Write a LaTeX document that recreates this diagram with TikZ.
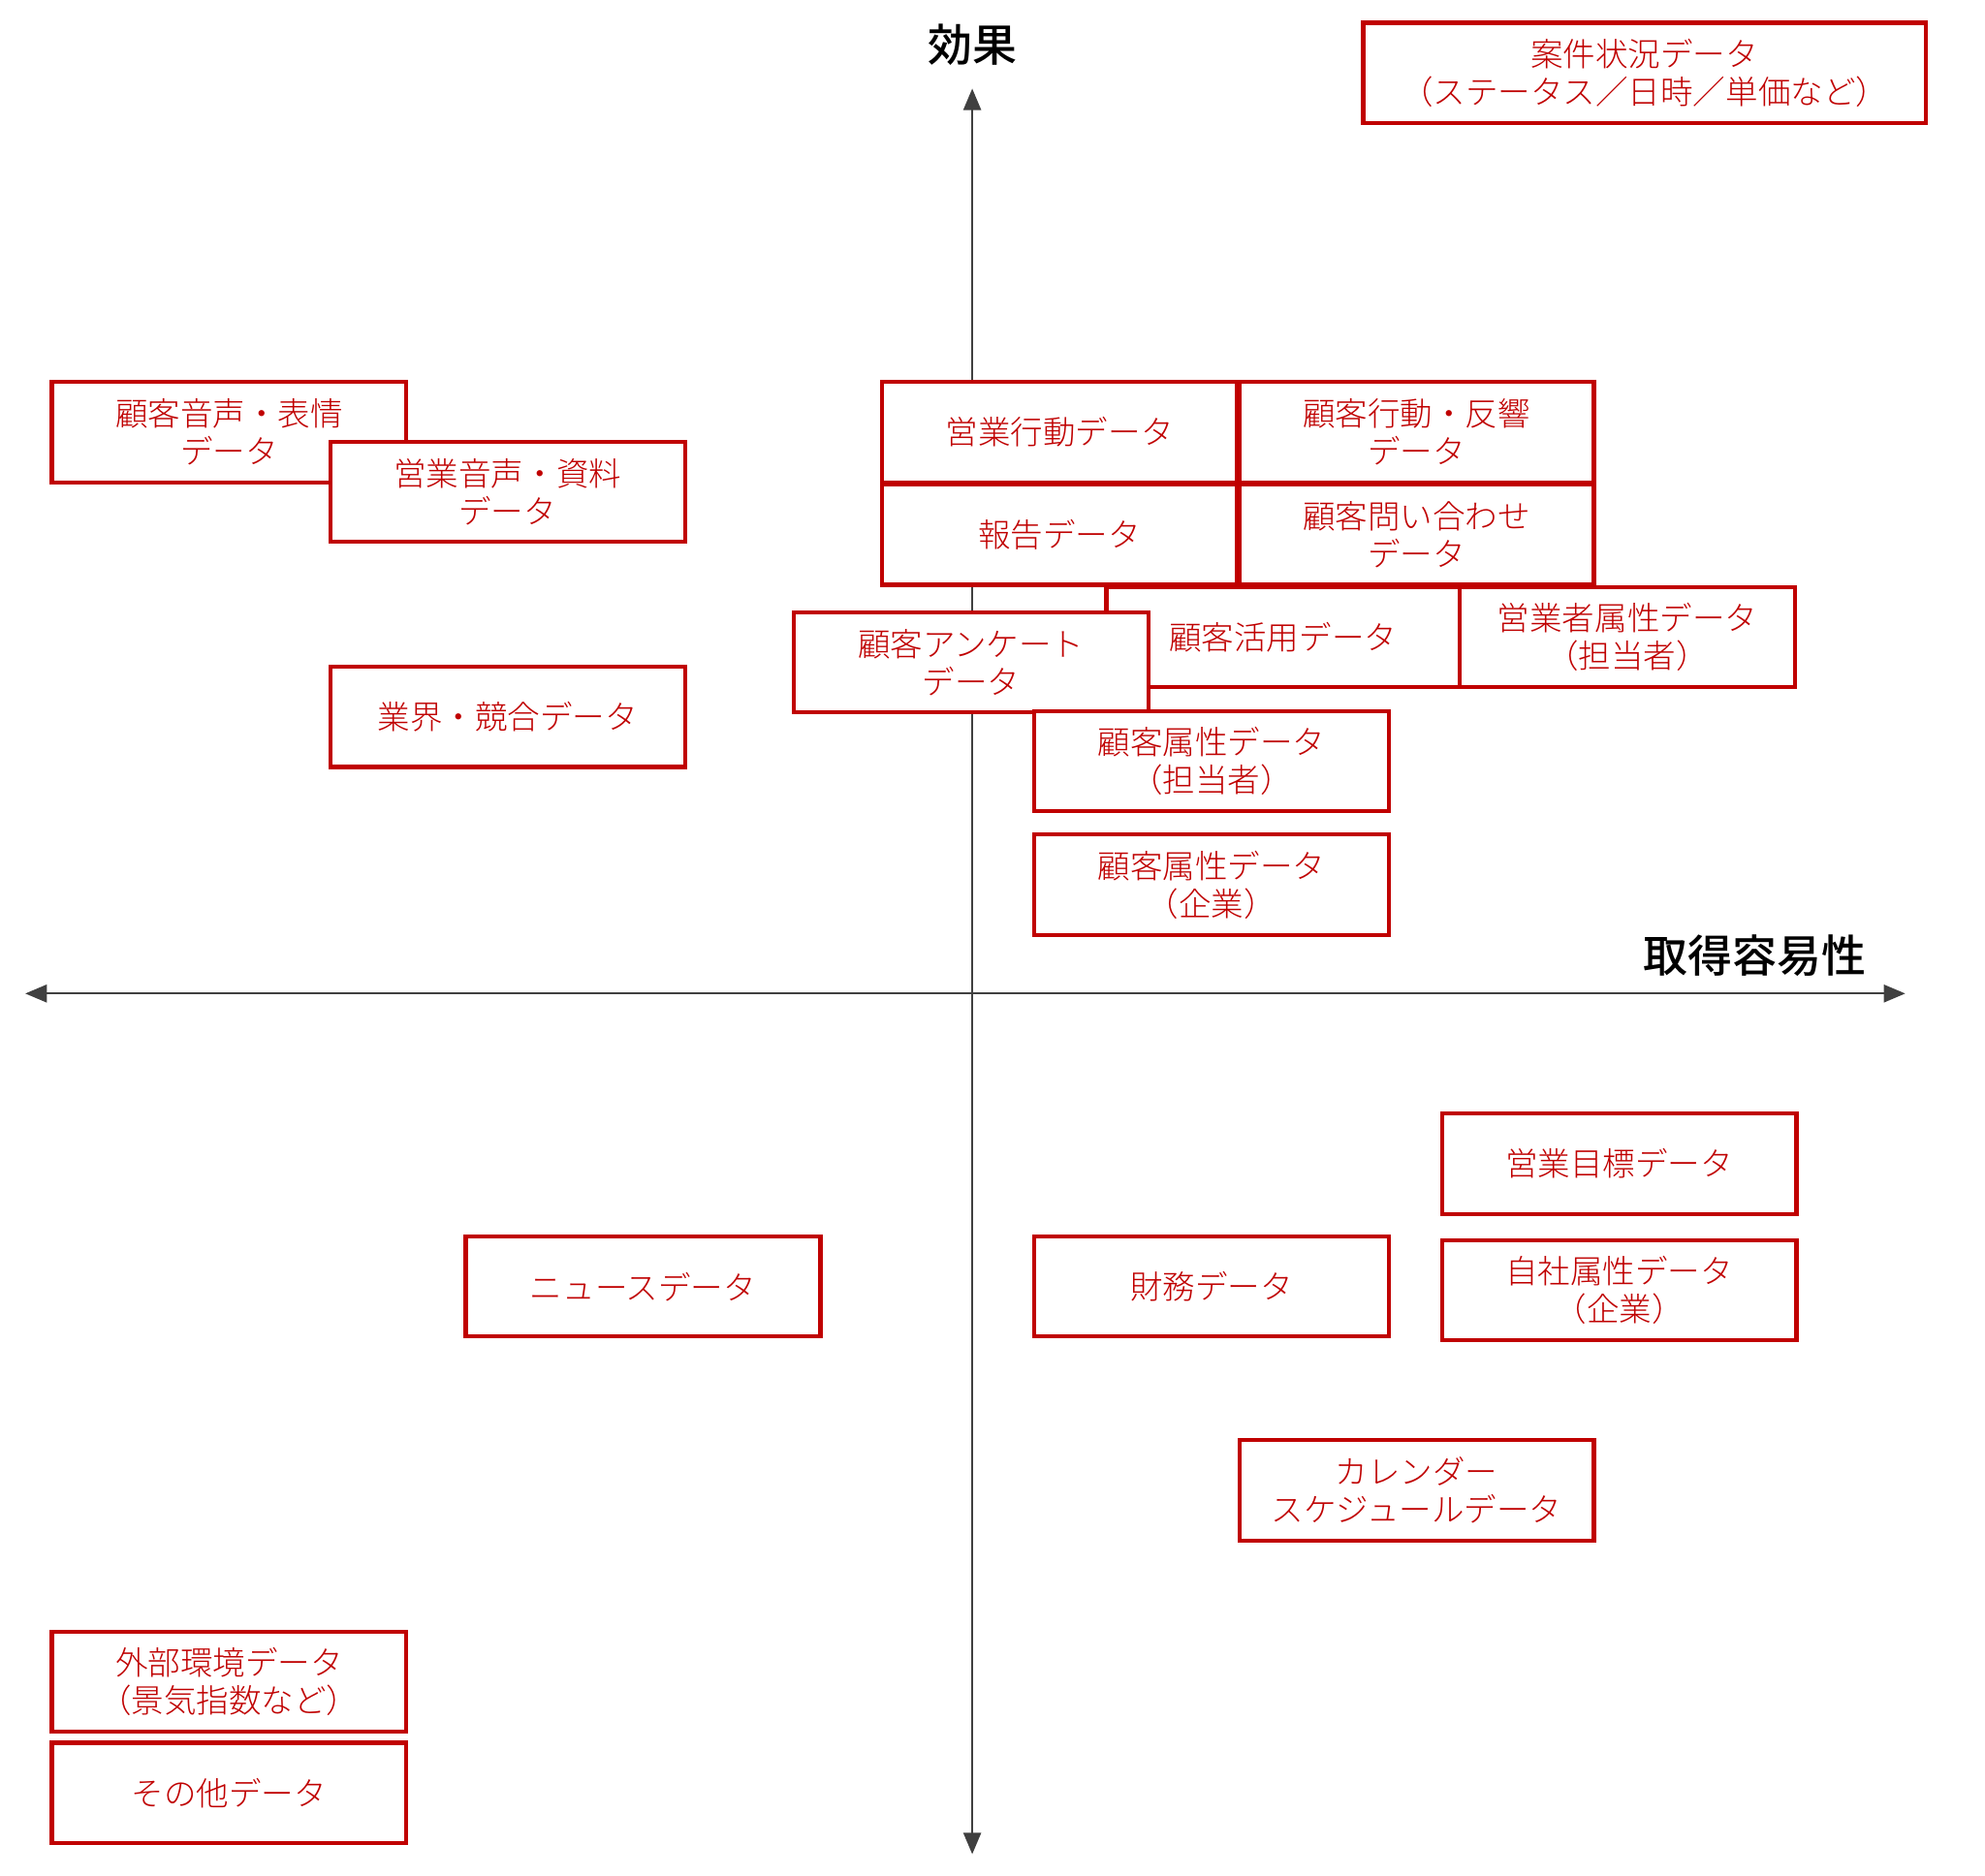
\documentclass[tikz,border=0pt]{standalone}
\usepackage{fontspec}
\setmainfont{Noto Sans CJK JP}[UprightFont=* Light,BoldFont=* Medium]
\usepackage{tikz}
\usetikzlibrary{arrows.meta,positioning}
\usepackage{xcolor}
\definecolor{boxred}{HTML}{C00000}
\definecolor{axisgray}{HTML}{404040}

\begin{document}
\begin{tikzpicture}[x=0.01cm,y=-0.01cm,
    databox/.style={draw=boxred,line width=0.9pt,fill=white,text=boxred,
        minimum width=2.8cm,minimum height=0.79cm,inner sep=0pt,align=center,
        font=\fontsize{7.3}{8.5}\selectfont},
    axislabel/.style={font=\fontsize{10}{12}\selectfont\bfseries,text=black}]
    \useasboundingbox (0,0) rectangle (1568,1482.2);
    % axes
    \coordinate (L) at (20,785);
    \coordinate (R) at (1505,785);
    \coordinate (T) at (768,70);
    \coordinate (B) at (768,1465);
    \draw[axisgray,line width=0.4pt,{Triangle[length=0.17cm,width=0.14cm]}-{Triangle[length=0.17cm,width=0.14cm]}] (L)--(R);
    \draw[axisgray,line width=0.4pt,{Triangle[length=0.17cm,width=0.14cm]}-{Triangle[length=0.17cm,width=0.14cm]}] (T)--(B);
    \node[axislabel] (effect) at (768,35) {効果};
    \node[axislabel] (ease) at (1386,755) {取得容易性};
    % upper left
    \node[databox] (kvoice) at (181,341.5) {顧客音声・表情\\データ};
    \node[databox] (svoice) at (401,388.5) {営業音声・資料\\データ};
    \node[databox] (industry) at (401,566.5) {業界・競合データ};
    % upper right
    \node[databox,minimum width=4.44cm] (anken) at (1299,57.5) {案件状況データ\\（ステータス／日時／単価など）};
    \node[databox] (sact) at (837,341.5) {営業行動データ};
    \node[databox] (kact) at (1119,341.5) {顧客行動・反響\\データ};
    \node[databox] (report) at (837,422.5) {報告データ};
    \node[databox] (kinq) at (1119,422.5) {顧客問い合わせ\\データ};
    \node[databox,minimum width=2.79cm] (kuse) at (1013.5,503.5) {顧客活用データ};
    \node[databox,minimum width=2.65cm] (sattr) at (1285.5,503.5) {営業者属性データ\\（担当者）};
    \node[databox] (ksurvey) at (767,523.5) {顧客アンケート\\データ};
    \node[databox] (kattrp) at (957,601.5) {顧客属性データ\\（担当者）};
    \node[databox] (kattrc) at (957,699) {顧客属性データ\\（企業）};
    % lower right
    \node[databox] (sgoal) at (1279,919.5) {営業目標データ};
    \node[databox] (finance) at (957,1016.5) {財務データ};
    \node[databox] (ownattr) at (1279,1019.5) {自社属性データ\\（企業）};
    \node[databox] (calendar) at (1119,1177.5) {カレンダー\\スケジュールデータ};
    % lower left
    \node[databox] (news) at (508,1016.5) {ニュースデータ};
    \node[databox] (external) at (181,1328.5) {外部環境データ\\（景気指数など）};
    \node[databox] (other) at (181,1416.5) {その他データ};
\end{tikzpicture}
\end{document}
